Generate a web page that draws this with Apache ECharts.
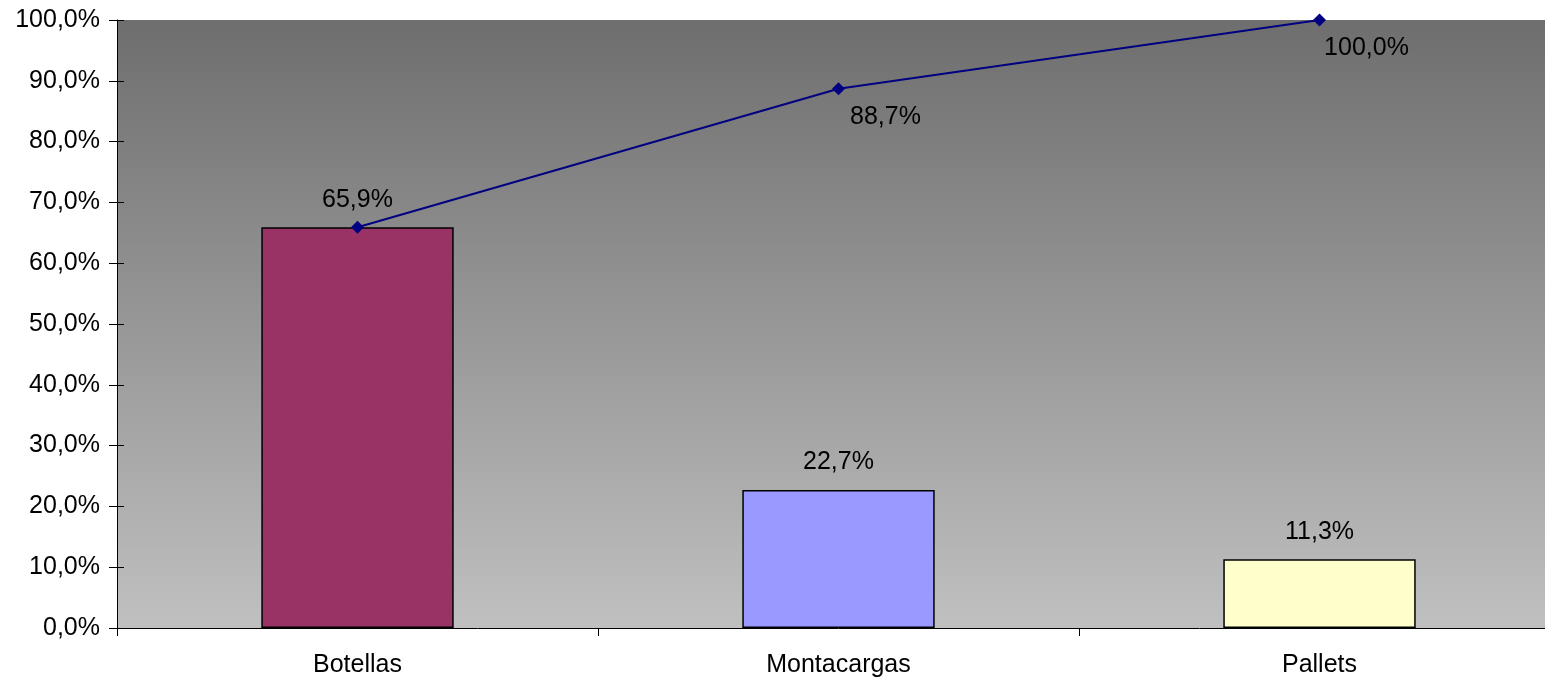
<!DOCTYPE html>
<html>
<head>
<meta charset="utf-8">
<script src="https://cdn.jsdelivr.net/npm/echarts@6/dist/echarts.min.js"></script>
<style>
html,body{margin:0;padding:0;background:#fff;overflow:hidden;width:1545px;height:681px;}
/* the plot runs slightly past the right edge of the page */
#chart{width:1560px;height:681px;}
</style>
</head>
<body>
<div id="chart"></div>
<script>
// Pareto: share per cause (bars) and cumulative share (line), in percent
const categories = ['Botellas', 'Montacargas', 'Pallets'];
const shares = [65.9, 22.7, 11.3];
const cumulative = [65.9, 88.7, 100.0];
const barColors = ['#993366', '#9999FF', '#FFFFCC'];

const fmt = v => v.toFixed(1).replace('.', ',') + '%';
const font = 'Liberation Sans, Arial, sans-serif';

const chart = echarts.init(document.getElementById('chart'));
chart.setOption({
  animation: false,
  textStyle: { fontFamily: font },
  grid: {
    left: 117, top: 20, right: 0, bottom: 53,
    show: true,
    borderWidth: 0,
    backgroundColor: {
      type: 'linear', x: 0, y: 0, x2: 0, y2: 1,
      colorStops: [{ offset: 0, color: '#6e6e6e' }, { offset: 1, color: '#c0c0c0' }]
    }
  },
  xAxis: {
    type: 'category',
    data: categories,
    axisLine: { lineStyle: { color: '#000', width: 1 } },
    axisTick: { show: true, length: 8, lineStyle: { color: '#000' } },
    axisLabel: { color: '#000', fontSize: 25, margin: 25, fontFamily: font }
  },
  yAxis: [{
    type: 'value',
    min: 0, max: 100, interval: 10,
    axisLine: { show: true, lineStyle: { color: '#000' } },
    axisTick: { show: true, length: 8, lineStyle: { color: '#000' } },
    axisLabel: { color: '#000', fontSize: 25, margin: 17, fontFamily: font, formatter: fmt },
    splitLine: { show: false }
  }, {
    // inner half of the crossing tick marks on the value axis
    type: 'value',
    position: 'left',
    min: 0, max: 100, interval: 10,
    axisLine: { show: false },
    axisTick: { show: true, inside: true, length: 7, lineStyle: { color: '#000' } },
    axisLabel: { show: false },
    splitLine: { show: false }
  }],
  series: [{
    type: 'bar',
    data: shares.map((v, i) => ({ value: v, itemStyle: { color: barColors[i] } })),
    barWidth: '40%',
    itemStyle: { borderColor: '#000', borderWidth: 1.5 },
    label: {
      show: true, position: 'top', distance: 15,
      color: '#000', fontSize: 25, fontFamily: font,
      formatter: p => fmt(p.value)
    },
    z: 2
  }, {
    type: 'line',
    data: cumulative.map((v, i) => ({
      value: v,
      label: { show: i > 0 }
    })),
    symbol: 'diamond',
    symbolSize: 13,
    lineStyle: { color: '#000080', width: 2 },
    itemStyle: { color: '#000080' },
    label: {
      position: 'bottom', offset: [47, 4],
      color: '#000', fontSize: 25, fontFamily: font,
      formatter: p => fmt(p.value)
    },
    z: 3
  }]
});
</script>
</body>
</html>
